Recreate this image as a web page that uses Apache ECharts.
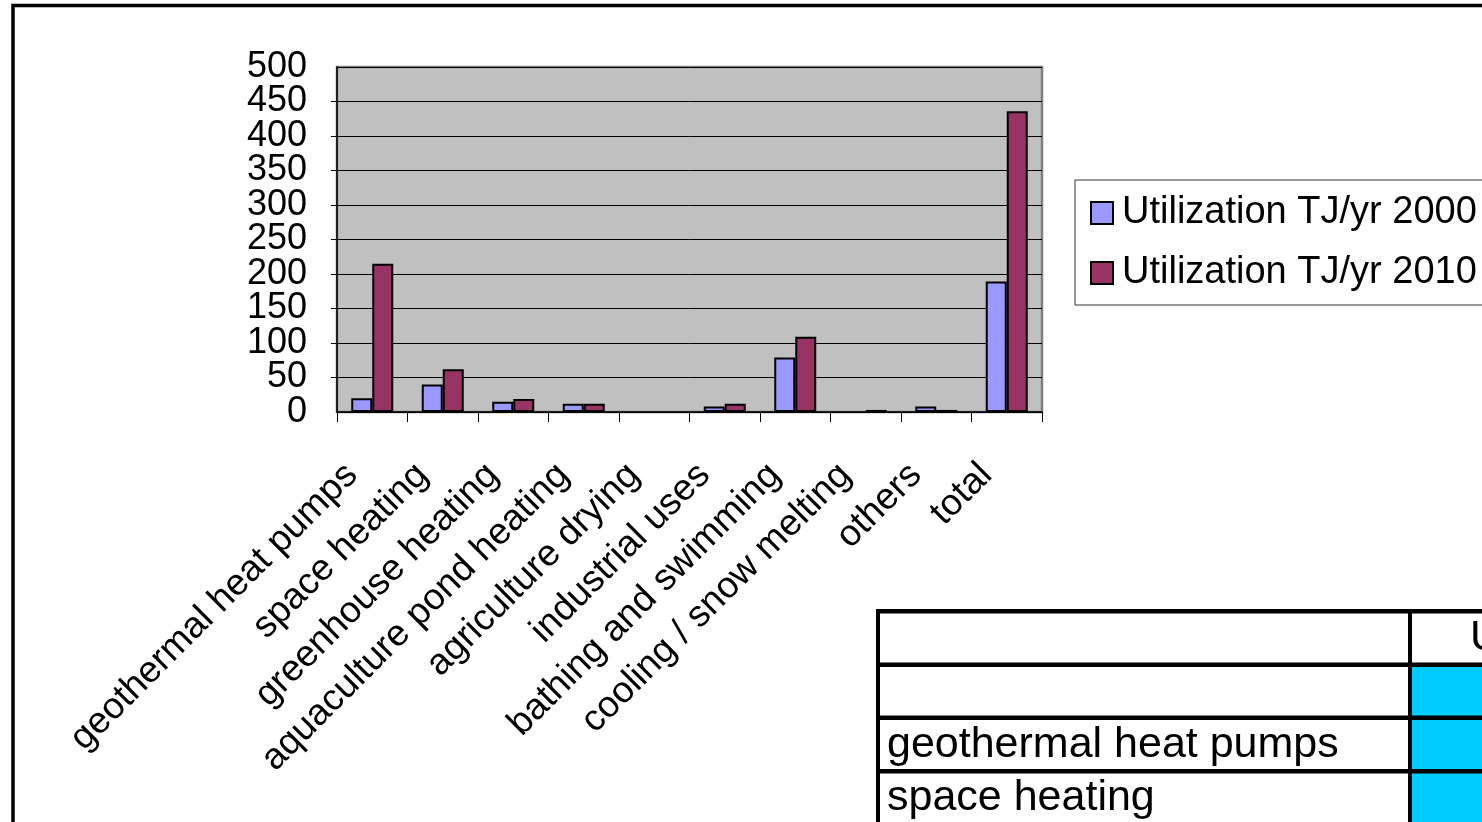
<!DOCTYPE html>
<html>
<head>
<meta charset="utf-8">
<script src="https://cdn.jsdelivr.net/npm/echarts@6/dist/echarts.min.js"></script>
<style>
html,body{margin:0;padding:0;background:#fff;}
#c{width:1482px;height:822px;}
</style>
</head>
<body>
<div id="c"></div>
<script>
var categories = ['geothermal heat pumps','space heating','greenhouse heating','aquaculture pond heating','agriculture drying','industrial uses','bathing and swimming','cooling / snow melting','others','total'];
var values2000 = [20, 40, 15, 12, 0, 8, 79, 0, 8, 189];
var values2010 = [215, 62, 19, 12, 0, 12, 109, 3, 3, 436];
var seriesNames = ['Utilization TJ/yr 2000', 'Utilization TJ/yr 2010'];
var yTicks = {min: 0, max: 500, interval: 50};
var tableHeader = 'Utilization TJ/yr';
var tableRows = ['', 'geothermal heat pumps', 'space heating'];

var FONT = '"Liberation Sans", Arial, sans-serif';
var chart = echarts.init(document.getElementById('c'), null, {renderer: 'canvas'});

function toBarData(arr) {
  return arr.map(function (v) {
    return v === 0 ? {value: v, itemStyle: {borderWidth: 0}} : v;
  });
}
function isEnd(v) { return v === yTicks.min || v === yTicks.max; }

var graphics = [
  {type: 'rect', shape: {x: 13, y: 5.5, width: 1600, height: 1000}, style: {fill: 'none', stroke: '#000', lineWidth: 3.5}, silent: true, z: 100},
  {type: 'rect', shape: {x: 1410, y: 664, width: 100, height: 200}, style: {fill: '#00CCFF'}, silent: true},
  {type: 'rect', shape: {x: 876, y: 609, width: 700, height: 4.5}, style: {fill: '#000'}, silent: true},
  {type: 'rect', shape: {x: 876, y: 662.5, width: 700, height: 4.5}, style: {fill: '#000'}, silent: true},
  {type: 'rect', shape: {x: 876, y: 715.5, width: 700, height: 4.5}, style: {fill: '#000'}, silent: true},
  {type: 'rect', shape: {x: 876, y: 769, width: 700, height: 4.5}, style: {fill: '#000'}, silent: true},
  {type: 'rect', shape: {x: 876, y: 609, width: 4, height: 300}, style: {fill: '#000'}, silent: true},
  {type: 'rect', shape: {x: 1408, y: 609, width: 4, height: 300}, style: {fill: '#000'}, silent: true},
  {type: 'text', x: 1470, y: 638, style: {text: tableHeader, font: '43px ' + FONT, fill: '#000', verticalAlign: 'middle', align: 'left'}, silent: true},
  {type: 'text', x: 887, y: 745, style: {text: tableRows[1], font: '43px ' + FONT, fill: '#000', verticalAlign: 'middle', align: 'left'}, silent: true},
  {type: 'text', x: 887, y: 798, style: {text: tableRows[2], font: '43px ' + FONT, fill: '#000', verticalAlign: 'middle', align: 'left'}, silent: true}
];

var yLabelBase = {fontSize: 36, color: '#000', fontFamily: FONT, margin: 30, hideOverlap: false};

var option = {
  animation: false,
  backgroundColor: '#fff',
  textStyle: {fontFamily: FONT},
  grid: {
    left: 337, right: 440, top: 67, bottom: 410,
    show: true, backgroundColor: '#C0C0C0', borderColor: '#808080', borderWidth: 2.5,
    containLabel: false
  },
  legend: {
    orient: 'vertical',
    left: 1075, top: 180,
    padding: [14, 20, 13, 15],
    itemGap: 22,
    itemWidth: 22, itemHeight: 22,
    borderColor: '#333', borderWidth: 1,
    backgroundColor: '#fff',
    icon: 'rect',
    itemStyle: {borderColor: '#000', borderWidth: 2},
    textStyle: {fontSize: 38, color: '#000', fontFamily: FONT, lineHeight: 38, padding: [0, 0, 0, 4]},
    data: seriesNames
  },
  xAxis: {
    type: 'category',
    data: categories,
    axisLine: {lineStyle: {color: '#000', width: 1.5}},
    axisTick: {show: true, length: 10, lineStyle: {color: '#000', width: 1}},
    axisLabel: {
      rotate: 45, interval: 0, fontSize: 37, color: '#000', fontFamily: FONT,
      margin: 37, padding: [0, 29, 0, 0], hideOverlap: false
    },
    splitLine: {show: false}
  },
  yAxis: [
    {
      type: 'value', position: 'left',
      min: yTicks.min, max: yTicks.max, interval: yTicks.interval,
      axisLine: {show: true, lineStyle: {color: '#000', width: 1.5}},
      axisTick: {show: true, length: 6, lineStyle: {color: '#000'}},
      axisLabel: Object.assign({}, yLabelBase, {
        showMinLabel: false, showMaxLabel: false,
        formatter: function (v) { return isEnd(v) ? '' : String(v); }
      }),
      splitLine: {show: true, lineStyle: {color: '#000', width: 1}}
    },
    {
      type: 'value', position: 'left', offset: 0,
      min: yTicks.min, max: yTicks.max, interval: yTicks.interval,
      axisLine: {show: false}, axisTick: {show: false}, splitLine: {show: false},
      axisLabel: Object.assign({}, yLabelBase, {
        showMinLabel: true, showMaxLabel: true,
        formatter: function (v) { return isEnd(v) ? String(v) : ''; }
      })
    }
  ],
  series: [
    {
      name: seriesNames[0], type: 'bar', data: toBarData(values2000), yAxisIndex: 0,
      barWidth: 21, barGap: '0%',
      itemStyle: {color: '#9999FF', borderColor: '#000', borderWidth: 2}
    },
    {
      name: seriesNames[1], type: 'bar', data: toBarData(values2010), yAxisIndex: 0,
      barWidth: 21, barGap: '0%',
      itemStyle: {color: '#993366', borderColor: '#000', borderWidth: 2}
    }
  ],
  graphic: graphics
};
chart.setOption(option);
</script>
</body>
</html>
